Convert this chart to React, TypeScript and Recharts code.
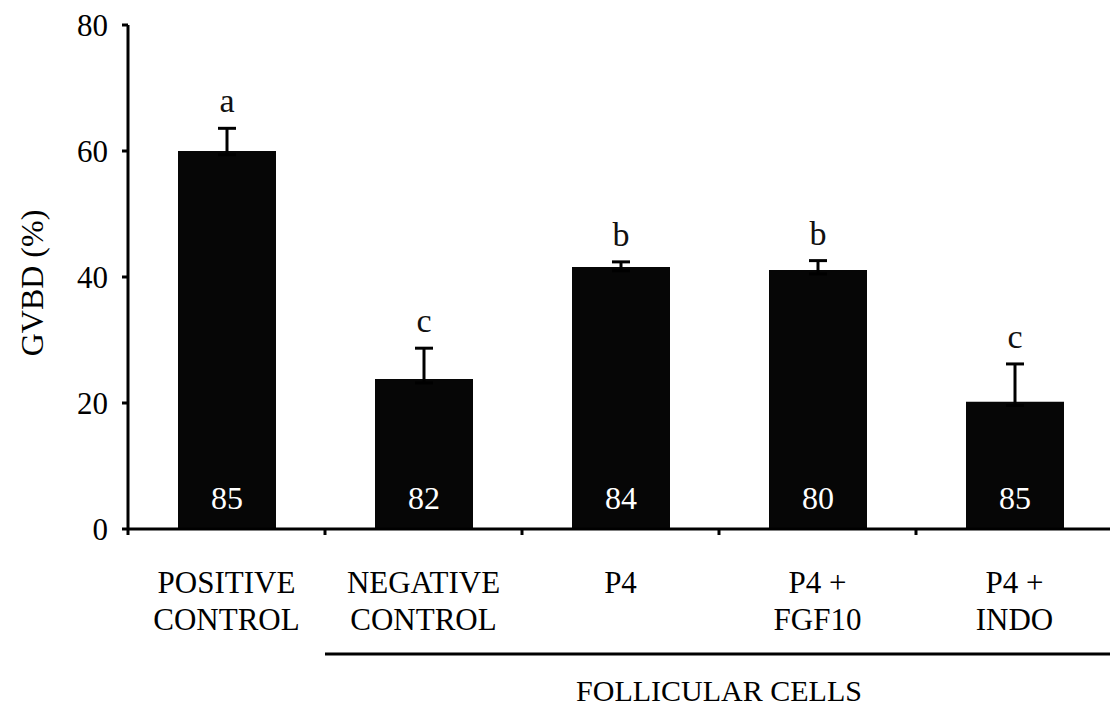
import React from 'react';
import { BarChart, Bar, XAxis, YAxis, ErrorBar, LabelList, Label } from 'recharts';

const categories = ['POSITIVE\nCONTROL', 'NEGATIVE\nCONTROL', 'P4', 'P4 +\nFGF10', 'P4 +\nINDO'];
const gvbd = [60, 23.8, 41.6, 41.1, 20.2];
const semUp = [3.6, 4.9, 0.8, 1.5, 6.0];
const letters = ['a', 'c', 'b', 'b', 'c'];
const oocytes = [85, 82, 84, 80, 85];
const yTicks = [0, 20, 40, 60, 80];
const groupLabel = 'FOLLICULAR CELLS';

// lower whisker is hidden inside the bar, only the upper one shows
const HIDDEN_LOW = 0.6;

const data = categories.map((name, i) => ({
    name,
    value: gvbd[i],
    err: [HIDDEN_LOW, semUp[i]],
    letter: letters[i],
    n: oocytes[i]
}));

const FONT = '"Liberation Serif", "Times New Roman", serif';
const CHART_W = 1116;
const CHART_H = 709;
const MARGIN = { top: 25, right: 3, left: 48, bottom: 80 };
const YAXIS_W = 80;
const XAXIS_H = 100;
const BAND = (CHART_W - MARGIN.left - MARGIN.right - YAXIS_W) / categories.length;

const CategoryTick = (props: any) => {
    const { x, y, payload } = props;
    const lines = String(payload.value).split('\n');
    const bx = x - BAND / 2;
    return (
        <g>
            <line x1={bx} y1={y} x2={bx} y2={y + 6} stroke="#000" strokeWidth={3} />
            <text x={x} y={y + 64} textAnchor="middle" fontSize={31} fontFamily={FONT} fill="#000">
                {lines.map((l, i) => (
                    <tspan key={i} x={x} dy={i === 0 ? 0 : 37}>{l}</tspan>
                ))}
            </text>
        </g>
    );
};

const GroupLabel = (props: any) => {
    const { x, y, width } = props.viewBox;
    const start = x + BAND;
    return (
        <g>
            <line x1={start} y1={y + 125} x2={x + width + 10} y2={y + 125} stroke="#000" strokeWidth={3} />
            <text x={start + (x + width - start) / 2} y={y + 172} textAnchor="middle" fontSize={30} fontFamily={FONT} fill="#000">
                {groupLabel}
            </text>
        </g>
    );
};

const YTitle = (props: any) => {
    const { x, y, height } = props.viewBox;
    const cx = x - 16;
    const cy = y + height / 2 + 6;
    return (
        <text x={cx} y={cy} transform={`rotate(-90, ${cx}, ${cy})`} textAnchor="middle" dominantBaseline="central" fontSize={32} fontFamily={FONT} fill="#000">
            GVBD (%)
        </text>
    );
};

const LetterLabel = (props: any) => {
    const { x, y, width, height, index } = props;
    const perUnit = height / gvbd[index];
    const top = y - semUp[index] * perUnit;
    return (
        <text x={x + width / 2} y={top - 16} textAnchor="middle" fontSize={34} fontFamily={FONT} fill="#111">
            {letters[index]}
        </text>
    );
};

const CountLabel = (props: any) => {
    const { x, y, width, height, index } = props;
    return (
        <text x={x + width / 2} y={y + height - 20} textAnchor="middle" fontSize={32} fontFamily={FONT} fill="#fff">
            {oocytes[index]}
        </text>
    );
};

export default function App() {
    return (
        <div style={{ position: 'absolute', left: 0, top: 0, width: 1110, height: 709, overflow: 'hidden', background: '#fff' }}>
            <BarChart width={CHART_W} height={CHART_H} data={data} margin={MARGIN}>
                <XAxis
                    dataKey="name"
                    interval={0}
                    height={XAXIS_H}
                    tickLine={false}
                    tickSize={0}
                    tickMargin={0}
                    axisLine={{ stroke: '#000', strokeWidth: 3 }}
                    tick={<CategoryTick />}
                >
                    <Label content={<GroupLabel />} />
                </XAxis>
                <YAxis
                    width={YAXIS_W}
                    domain={[0, 80]}
                    ticks={yTicks}
                    interval={0}
                    tickSize={6}
                    tickMargin={14}
                    axisLine={{ stroke: '#000', strokeWidth: 3 }}
                    tickLine={{ stroke: '#000', strokeWidth: 3 }}
                    tick={{ fill: '#000', fontSize: 31, fontFamily: FONT }}
                >
                    <Label content={<YTitle />} />
                </YAxis>
                <Bar dataKey="value" fill="#060606" barSize={98} isAnimationActive={false}>
                    <ErrorBar dataKey="err" direction="y" width={9} stroke="#000" strokeWidth={3} isAnimationActive={false} />
                    <LabelList dataKey="letter" content={<LetterLabel />} />
                    <LabelList dataKey="n" content={<CountLabel />} />
                </Bar>
            </BarChart>
        </div>
    );
}
